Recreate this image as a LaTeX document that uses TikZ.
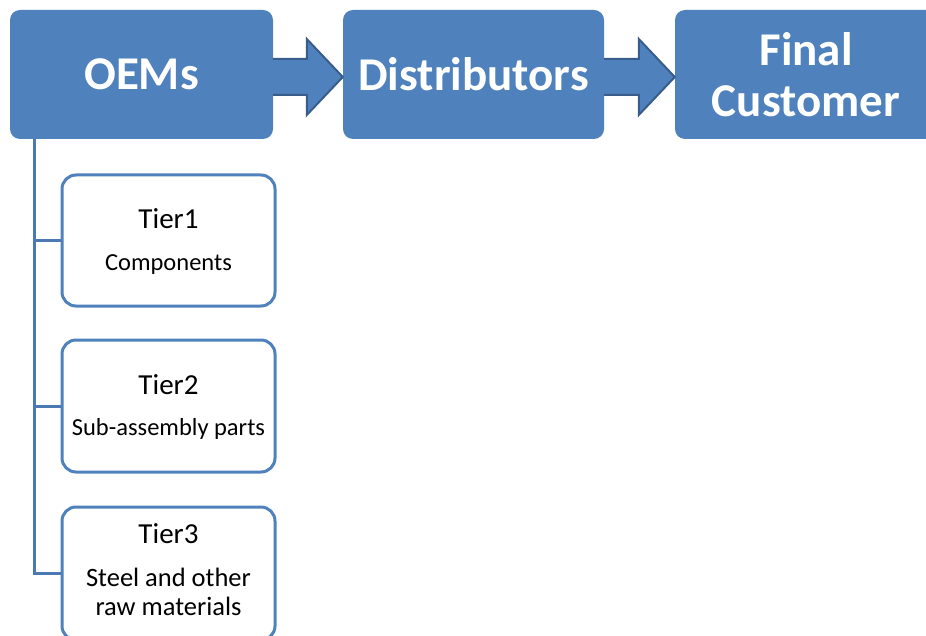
\documentclass[tikz,border=0pt]{standalone}
\usepackage{fontspec}
\setmainfont{Carlito}
\usetikzlibrary{calc}
\definecolor{boxblue}{HTML}{4F81BD}
\definecolor{arrowedge}{HTML}{385D8A}
\definecolor{linkblue}{HTML}{4A79B3}

\begin{document}
\begin{tikzpicture}[x=1pt,y=1pt,
  stage/.style={fill=boxblue, draw=none, rounded corners=10pt, text=white,
    font=\fontsize{47}{51}\selectfont\bfseries, align=center, inner sep=0pt,
    minimum height=129pt},
  tier/.style={draw=boxblue, line width=3pt, fill=white, rounded corners=14pt,
    inner sep=0pt, minimum width=213pt},
  tiertitle/.style={anchor=base, font=\fontsize{29}{35}\selectfont, inner sep=0pt},
  tiertext/.style={anchor=base, font=\fontsize{24.5}{29}\selectfont, inner sep=0pt, align=center},
  tierwide/.style={tiertext, font=\fontsize{26.5}{31}\selectfont},
  bigarrow/.style={fill=boxblue, draw=arrowedge, line width=2pt, line join=miter},
  link/.style={draw=linkblue, line width=3pt}
]
\useasboundingbox (0,0) rectangle (926,-636);
\clip (0,0) rectangle (926,-636);

% supply chain stages
\node[stage, minimum width=263pt] (oem)   at (141.5,-74.5) {OEMs};
\node[stage, minimum width=261pt] (dist)  at (473.5,-74.5) {Distributors};
\node[stage, minimum width=262pt] (final) at (806,-74.5)   {Final\\Customer};

% block arrows between the stages
\foreach \src/\dst in {oem/dist, dist/final}{
  \coordinate (s) at ($(\src.east)+(0,-2.5)$);
  \coordinate (t) at ($(\dst.west)+(0,-2.5)$);
  \draw[bigarrow] ($(s)+(0,18)$) -- ($(t)+(-36,18)$) -- ($(t)+(-36,38)$) -- (t)
    -- ($(t)+(-36,-38)$) -- ($(t)+(-36,-18)$) -- ($(s)+(0,-18)$);
}

% supplier tiers
\node[tier, minimum height=131pt] (tier1) at (168.5,-240.5) {};
\node[tier, minimum height=132pt] (tier2) at (168.5,-406)   {};
\node[tier, minimum height=133pt] (tier3) at (168.5,-573.5) {};

\node[tiertitle] (t1a) at ($(tier1.north)+(0,-55)$) {Tier1};
\node[tiertext]  (t1b) at ($(tier1.north)+(0,-97)$) {Components};
\node[tiertitle] (t2a) at ($(tier2.north)+(0,-56)$) {Tier2};
\node[tiertext]  (t2b) at ($(tier2.north)+(0,-97)$) {Sub-assembly parts};
\node[tiertitle] (t3a) at ($(tier3.north)+(0,-38)$) {Tier3};
\node[tierwide]  (t3b) at ($(tier3.north)+(0,-81)$) {Steel and other};
\node[tierwide]  (t3c) at ($(tier3.north)+(0,-110)$) {raw materials};

% tree connector from the OEMs down to each tier
\coordinate (trunk) at ($(oem.south west)+(25,0)$);
\draw[link] (trunk) |- (tier3.west);
\draw[link] (trunk |- tier1.west) -- (tier1.west);
\draw[link] (trunk |- tier2.west) -- (tier2.west);
\end{tikzpicture}
\end{document}
